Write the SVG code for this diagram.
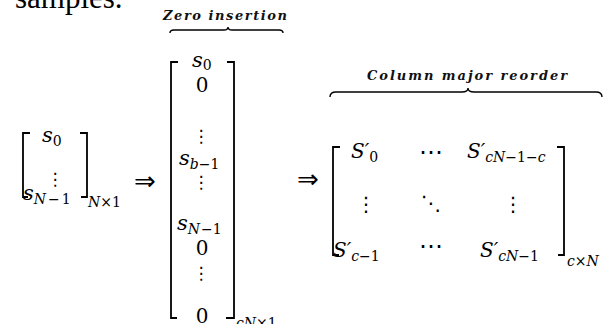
<svg xmlns="http://www.w3.org/2000/svg" width="606" height="324" viewBox="0 0 606 324">
<style>
.v{font-family:"DejaVu Serif",serif;font-style:italic;fill:#000}
.n{font-family:"DejaVu Serif",serif;font-style:normal;fill:#000}
.d{font-family:"DejaVu Sans",sans-serif;fill:#000;text-anchor:middle}
.br{fill:none;stroke:#000;stroke-width:1.8}
.brace{fill:none;stroke:#000;stroke-width:1.4}
.ttl{font-family:"DejaVu Serif",serif;font-style:italic;font-weight:bold;font-size:13px;fill:#111}
.m{font-size:21px}
.s{font-size:14px}
.S{font-size:20px}
.ss{font-size:14px}
</style>
<text x="15" y="8" style="font-family:'Liberation Serif',serif;font-size:31px">samples.</text>

<g id="zero-insertion-label">
<text class="ttl" x="163" y="20" textLength="124" lengthAdjust="spacing">Zero insertion</text>
<path class="brace" d="M170,33 Q170,30 174,30 L224,30 Q228,30 228,27 Q228,30 232,30 L279,30 Q283,30 283,33"/>
</g>
<g id="column-major-label">
<text class="ttl" x="367" y="80" textLength="200" lengthAdjust="spacing">Column major reorder</text>
<path class="brace" d="M330,97 Q330,92 336,92 L462,92 Q468,92 468,88 Q468,92 474,92 L596,92 Q602,92 602,97"/>
</g>

<g id="matrix-input">
<path class="br" d="M30,133 H23 V197 H28"/>
<path class="br" d="M80,133 H87 V197 H81"/>
<text x="42" y="142"><tspan class="v m">s</tspan><tspan class="n s" dy="4">0</tspan></text>
<text class="d" x="55" y="185" font-size="17">⋮</text>
<text x="23" y="200"><tspan class="v m">s</tspan><tspan class="v s" dy="4">N</tspan><tspan class="n s" dx="2">−</tspan><tspan class="n s" dx="2">1</tspan></text>
<text x="88" y="207"><tspan class="v s">N</tspan><tspan class="n s">×1</tspan></text>
</g>

<g id="connectors">
<text x="134" y="190" font-size="26" style="font-family:'DejaVu Sans',sans-serif">⇒</text>
<text x="297" y="188" font-size="26" style="font-family:'DejaVu Sans',sans-serif">⇒</text>
</g>

<g id="matrix-zero-inserted">
<path class="br" d="M178,62 H171 V318 H177"/>
<path class="br" d="M227,62 H234 V318 H226"/>
<text x="192" y="67"><tspan class="v m">s</tspan><tspan class="n s" dy="3">0</tspan></text>
<text class="n" x="202" y="92" font-size="20" text-anchor="middle">0</text>
<text class="d" x="201" y="142" font-size="17">⋮</text>
<text x="179" y="165"><tspan class="v m">s</tspan><tspan class="v s" dy="4">b</tspan><tspan class="n s">−1</tspan></text>
<text class="d" x="201" y="188" font-size="17">⋮</text>
<text x="177" y="230"><tspan class="v m">s</tspan><tspan class="v s" dy="4">N</tspan><tspan class="n s" dx="1">−1</tspan></text>
<text class="n" x="202" y="255" font-size="20" text-anchor="middle">0</text>
<text class="d" x="201" y="279" font-size="17">⋮</text>
<text class="n" x="202" y="323" font-size="20" text-anchor="middle">0</text>
<text x="236" y="328"><tspan class="v s">cN</tspan><tspan class="n s">×1</tspan></text>
</g>

<g id="matrix-reordered">
<path class="br" d="M340,147 H333 V255 H339"/>
<path class="br" d="M557,147 H564 V255 H558"/>
<text x="351" y="158"><tspan class="v S">S′</tspan><tspan class="n ss" dy="4">0</tspan></text>
<text class="d" x="431" y="160" font-size="24">⋯</text>
<text x="467" y="158"><tspan class="v S">S′</tspan><tspan class="v ss" dy="4">cN</tspan><tspan class="n ss">−1−</tspan><tspan class="v ss">c</tspan></text>
<text class="d" x="366" y="211" font-size="20">⋮</text>
<text class="d" x="431" y="210" font-size="20">⋱</text>
<text class="d" x="513" y="211" font-size="20">⋮</text>
<text x="333" y="257"><tspan class="v S">S′</tspan><tspan class="v ss" dy="4">c</tspan><tspan class="n ss">−1</tspan></text>
<text class="d" x="431" y="254" font-size="24">⋯</text>
<text x="480" y="257"><tspan class="v S">S′</tspan><tspan class="v ss" dy="4">cN</tspan><tspan class="n ss">−1</tspan></text>
<text x="567" y="266"><tspan class="v s">c</tspan><tspan class="n s">×</tspan><tspan class="v s">N</tspan></text>
</g>
</svg>
